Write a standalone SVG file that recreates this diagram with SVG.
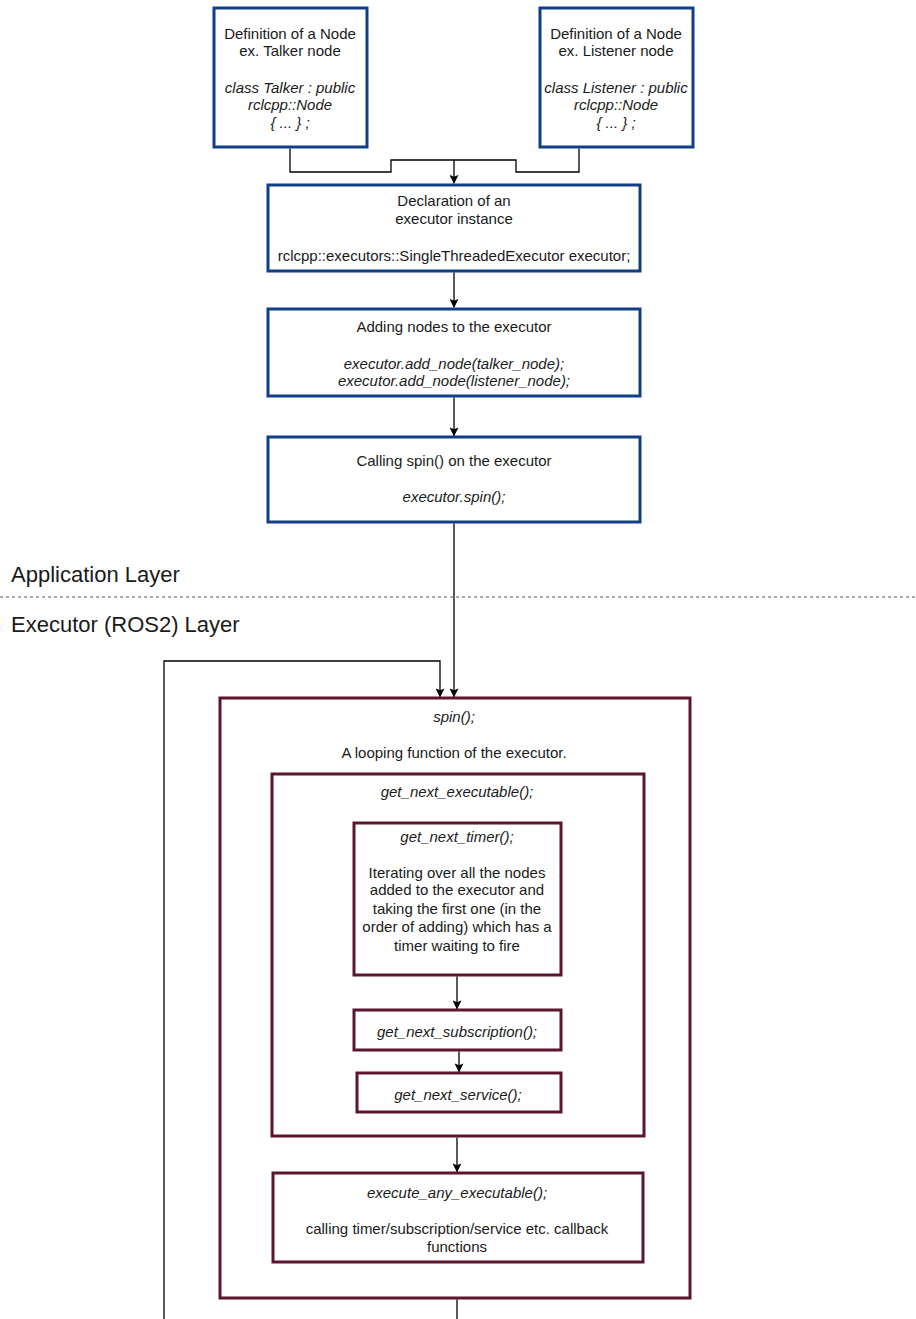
<svg xmlns="http://www.w3.org/2000/svg" width="916" height="1319" viewBox="0 0 916 1319">
  <defs>
    <marker id="arrow" viewBox="0 0 10 10" refX="9" refY="5" markerWidth="9" markerHeight="9" markerUnits="userSpaceOnUse" orient="auto">
      <path d="M0,0 L10,5 L0,10 L2,5 z" fill="#000"/>
    </marker>
    <style>
      .app { fill: #fff; stroke: #103f86; stroke-width: 3; }
      .exe { fill: #fff; stroke: #5b1530; stroke-width: 3; }
      .t { font-family: "Liberation Sans", Arial, sans-serif; font-size: 15px; fill: #1a1a1a; text-anchor: middle; }
      .i { font-style: italic; }
      .layer { font-family: "Liberation Sans", Arial, sans-serif; font-size: 22px; fill: #1a1a1a; }
      .conn { fill: none; stroke: #000; stroke-width: 1.3; }
    </style>
  </defs>
  <rect width="916" height="1319" fill="#fff"/>

  <!-- layer labels and separator -->
  <text class="layer" x="11" y="582">Application Layer</text>
  <line x1="0" y1="597" x2="916" y2="597" stroke="#555" stroke-width="1" stroke-dasharray="3,3"/>
  <text class="layer" x="11" y="632">Executor (ROS2) Layer</text>

  <g id="talker">
    <rect class="app" x="214" y="8" width="153" height="139"/>
    <text class="t" x="290" y="39">Definition of a Node</text>
    <text class="t" x="290" y="56">ex. Talker node</text>
    <text class="t i" x="290" y="93">class Talker : public</text>
    <text class="t i" x="290" y="110">rclcpp::Node</text>
    <text class="t i" x="290" y="128">{ ... } ;</text>
  </g>

  <g id="listener">
    <rect class="app" x="540" y="8" width="153" height="139"/>
    <text class="t" x="616" y="39">Definition of a Node</text>
    <text class="t" x="616" y="56">ex. Listener node</text>
    <text class="t i" x="616" y="93">class Listener : public</text>
    <text class="t i" x="616" y="110">rclcpp::Node</text>
    <text class="t i" x="616" y="128">{ ... } ;</text>
  </g>

  <g id="declaration">
    <rect class="app" x="268" y="185" width="372" height="86"/>
    <text class="t" x="454" y="206">Declaration of an</text>
    <text class="t" x="454" y="224">executor instance</text>
    <text class="t" x="454" y="261">rclcpp::executors::SingleThreadedExecutor executor;</text>
  </g>

  <g id="adding">
    <rect class="app" x="268" y="309" width="372" height="87"/>
    <text class="t" x="454" y="332">Adding nodes to the executor</text>
    <text class="t i" x="454" y="369">executor.add_node(talker_node);</text>
    <text class="t i" x="454" y="386">executor.add_node(listener_node);</text>
  </g>

  <g id="calling">
    <rect class="app" x="268" y="437" width="372" height="85"/>
    <text class="t" x="454" y="466">Calling spin() on the executor</text>
    <text class="t i" x="454" y="502">executor.spin();</text>
  </g>

  <g id="spin">
    <rect class="exe" x="220" y="698" width="470" height="600"/>
    <text class="t i" x="454" y="722">spin();</text>
    <text class="t" x="454" y="758">A looping function of the executor.</text>
  </g>

  <g id="get_next_executable">
    <rect class="exe" x="272" y="774" width="372" height="362"/>
    <text class="t i" x="457" y="797">get_next_executable();</text>
  </g>

  <g id="get_next_timer">
    <rect class="exe" x="354" y="823" width="207" height="152"/>
    <text class="t i" x="457" y="842">get_next_timer();</text>
    <text class="t" x="457" y="878">Iterating over all the nodes</text>
    <text class="t" x="457" y="895">added to the executor and</text>
    <text class="t" x="457" y="914">taking the first one (in the</text>
    <text class="t" x="457" y="932">order of adding) which has a</text>
    <text class="t" x="457" y="951">timer waiting to fire</text>
  </g>

  <g id="get_next_subscription">
    <rect class="exe" x="354" y="1010" width="207" height="40"/>
    <text class="t i" x="457" y="1037">get_next_subscription();</text>
  </g>

  <g id="get_next_service">
    <rect class="exe" x="357" y="1073" width="204" height="39"/>
    <text class="t i" x="458" y="1100">get_next_service();</text>
  </g>

  <g id="execute_any_executable">
    <rect class="exe" x="273" y="1173" width="370" height="89"/>
    <text class="t i" x="457" y="1198">execute_any_executable();</text>
    <text class="t" x="457" y="1234">calling timer/subscription/service etc. callback</text>
    <text class="t" x="457" y="1252">functions</text>
  </g>

  <!-- connectors, drawn above the box fills -->
  <g id="connectors">
    <path class="conn" d="M290,148.5 V172 H391 V160 H516 V172 H579 V148.5"/>
    <path class="conn" d="M454,160 V183" marker-end="url(#arrow)"/>
    <path class="conn" d="M454,272.5 V307" marker-end="url(#arrow)"/>
    <path class="conn" d="M454,397.5 V435.5" marker-end="url(#arrow)"/>
    <path class="conn" d="M454,523.5 V696.5" marker-end="url(#arrow)"/>
    <path class="conn" d="M164,1319 V661 H440 V696.5" marker-end="url(#arrow)"/>
    <path class="conn" d="M457,976.5 V1008.5" marker-end="url(#arrow)"/>
    <path class="conn" d="M459,1051.5 V1071.5" marker-end="url(#arrow)"/>
    <path class="conn" d="M457,1137.5 V1171.5" marker-end="url(#arrow)"/>
    <path class="conn" d="M457,1299.5 V1319"/>
  </g>
</svg>
